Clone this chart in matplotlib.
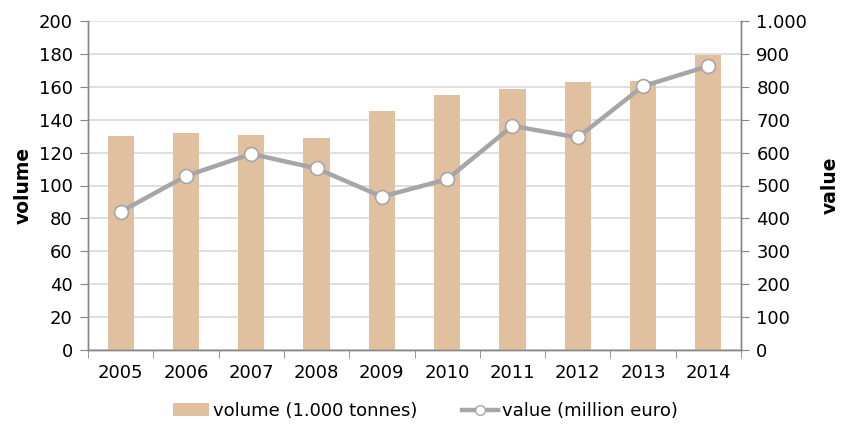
import matplotlib.pyplot as plt
from matplotlib.lines import Line2D
import numpy as np

years = ['2005', '2006', '2007', '2008', '2009', '2010', '2011', '2012', '2013', '2014']
volume = [130, 132, 130.5, 129, 145, 155, 158.5, 163, 163.5, 179.5]
value = [420, 529, 596, 552, 466, 519, 681, 646, 802, 863]

plt.rcParams['font.family'] = 'DejaVu Sans'

fig = plt.figure(figsize=(8.51, 4.26), dpi=100)
ax = fig.add_axes([88/851, 1 - 350/426, (741-88)/851, (350-21)/426])
ax2 = ax.twinx()

x = np.arange(len(years))
bars = ax.bar(x, volume, width=0.4, color='#E0C09E', zorder=2)
ax2.plot(x, value, color='#A6A6A6', linewidth=3.2, marker='o', markersize=10,
         markerfacecolor='white', markeredgecolor='#A6A6A6', markeredgewidth=1.2, zorder=3)

ax.set_xlim(-0.5, 9.5)
ax.set_ylim(0, 200)
ax.set_yticks(np.arange(0, 201, 20))
ax2.set_ylim(0, 1000)
ax2.set_yticks(np.arange(0, 1001, 100))
ax2.set_yticklabels(['0'] + [f'{v:,}'.replace(',', '.') for v in range(100, 1001, 100)])

ax.set_xticks(x)
ax.set_xticklabels(years)
ax.set_xticks(np.arange(-0.5, 10, 1), minor=True)
ax.tick_params(axis='x', which='major', length=0, pad=10, labelsize=13)
ax.tick_params(axis='x', which='minor', length=6, color='#868686', direction='out')
ax.tick_params(axis='y', length=6, color='#868686', labelsize=13, pad=5)
ax2.tick_params(axis='y', length=6, color='#868686', labelsize=13, pad=5)

ax.yaxis.grid(True, color='#D9D9D9', linewidth=1.2, zorder=0)
ax.set_axisbelow(True)

for a in (ax, ax2):
    a.spines['top'].set_visible(False)
    for s in ('left', 'right', 'bottom'):
        a.spines[s].set_color('#868686')
        a.spines[s].set_linewidth(1.0)

ax.set_ylabel('volume', fontsize=13.5, fontweight='bold', labelpad=4)
ax2.set_ylabel('value', fontsize=13.5, fontweight='bold', labelpad=10)

line_proxy = Line2D([], [], color='#A6A6A6', linewidth=3.2, marker='o', markersize=7,
                    markerfacecolor='white', markeredgecolor='#A6A6A6', markeredgewidth=1.0)
fig.legend([bars, line_proxy], ['volume (1.000 tonnes)', 'value (million euro)'],
           loc='center', bbox_to_anchor=(0.5, 1 - 411/426), ncol=2, frameon=False,
           fontsize=13, handlelength=2.0, columnspacing=2.5, handletextpad=0.2)

fig.savefig('out.png', dpi=100)
